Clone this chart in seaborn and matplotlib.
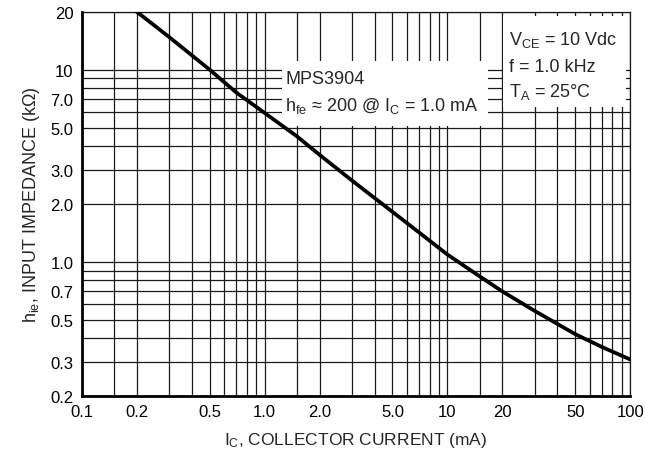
import matplotlib
matplotlib.use("Agg")
import matplotlib.pyplot as plt
from matplotlib.patches import Rectangle
from matplotlib.ticker import FixedLocator, FixedFormatter, NullFormatter
import seaborn as sns
import pandas as pd

# Input impedance vs collector current (MPS3904)
collector_current_ma = [0.2, 0.3, 0.5, 0.7, 1.0, 1.5, 2.0, 3.0, 5.0, 7.0, 10, 15, 20, 30, 50, 70, 100]
input_impedance_kohm = [20, 14.8, 10, 7.6, 5.95, 4.5, 3.6, 2.65, 1.82, 1.42, 1.09, 0.84, 0.70, 0.555, 0.42, 0.36, 0.31]

x_tick_values = [0.1, 0.2, 0.5, 1.0, 2.0, 5.0, 10, 20, 50, 100]
x_tick_labels = ["0.1", "0.2", "0.5", "1.0", "2.0", "5.0", "10", "20", "50", "100"]
y_tick_values = [0.2, 0.3, 0.5, 0.7, 1.0, 2.0, 3.0, 5.0, 7.0, 10, 20]
y_tick_labels = ["0.2", "0.3", "0.5", "0.7", "1.0", "2.0", "3.0", "5.0", "7.0", "10", "20"]

# grid multipliers per decade
x_grid_steps = [1, 1.5, 2, 3, 4, 5, 6, 7, 8, 9]
y_grid_steps = [1, 2, 3, 4, 5, 6, 7, 8, 9]

sns.set_theme(style="white")
FONT = ["Liberation Sans", "DejaVu Sans"]
plt.rcParams["font.family"] = FONT
plt.rcParams["mathtext.fontset"] = "custom"
plt.rcParams["mathtext.rm"] = "Liberation Sans"
plt.rcParams["mathtext.it"] = "Liberation Sans"
plt.rcParams["mathtext.bf"] = "Liberation Sans:bold"

fig = plt.figure(figsize=(6.45, 4.6), dpi=100)
ax = fig.add_axes([0.127, 0.137, 0.850, 0.835])

df = pd.DataFrame({"ic": collector_current_ma, "hie": input_impedance_kohm})
sns.lineplot(data=df, x="ic", y="hie", ax=ax, color="black", linewidth=2.7,
             zorder=4, sort=False)

ax.set_xscale("log")
ax.set_yscale("log")
ax.set_xlim(0.1, 100)
ax.set_ylim(0.2, 20)

x_grid = [d * s for d in (0.1, 1, 10) for s in x_grid_steps] + [100]
y_grid = [d * s for d in (0.1, 1, 10) for s in y_grid_steps if 0.2 <= d * s <= 20]

ax.xaxis.set_major_locator(FixedLocator(x_tick_values))
ax.xaxis.set_major_formatter(FixedFormatter(x_tick_labels))
ax.xaxis.set_minor_locator(FixedLocator(x_grid))
ax.xaxis.set_minor_formatter(NullFormatter())
ax.yaxis.set_major_locator(FixedLocator(y_tick_values))
ax.yaxis.set_major_formatter(FixedFormatter(y_tick_labels))
ax.yaxis.set_minor_locator(FixedLocator(y_grid))
ax.yaxis.set_minor_formatter(NullFormatter())
ax.xaxis.remove_overlapping_locs = False
ax.yaxis.remove_overlapping_locs = False

ax.set_axisbelow(True)
ax.grid(which="minor", color="#1a1a1a", linewidth=0.9)
ax.grid(which="major", visible=False)
ax.tick_params(which="both", length=0, labelsize=12, colors="black")
ax.tick_params(axis="x", pad=6)
ax.tick_params(axis="y", pad=6)

for side in ("left", "bottom"):
    ax.spines[side].set_linewidth(2.0)
    ax.spines[side].set_color("black")
for side in ("top", "right"):
    ax.spines[side].set_linewidth(0.9)
    ax.spines[side].set_color("#1a1a1a")
    ax.spines[side].set_visible(True)

ax.set_xlabel(r"I$_C$, COLLECTOR CURRENT (mA)", fontsize=12.5, labelpad=8)
ax.set_ylabel(r"h$_{ie}$, INPUT IMPEDANCE (kΩ)", fontsize=13, labelpad=6)

# white legend panels
ax.add_patch(Rectangle((0.365, 0.703), 0.376, 0.169, transform=ax.transAxes,
                       facecolor="white", edgecolor="none", zorder=1.5))
ax.add_patch(Rectangle((0.768, 0.753), 0.225, 0.237, transform=ax.transAxes,
                       facecolor="white", edgecolor="none", zorder=1.5))

txt = dict(transform=ax.transAxes, fontsize=13, ha="left", va="baseline", zorder=5)
ax.text(0.371, 0.815, "MPS3904", **txt)
ax.text(0.371, 0.745, r"h$_{fe}$ ≈ 200 @ I$_C$ = 1.0 mA", **txt)
ax.text(0.779, 0.917, r"V$_{CE}$ = 10 Vdc", **txt)
ax.text(0.779, 0.846, "f = 1.0 kHz", **txt)
ax.text(0.779, 0.781, r"T$_A$ = 25°C", **txt)

fig.savefig("out.png", dpi=100)
